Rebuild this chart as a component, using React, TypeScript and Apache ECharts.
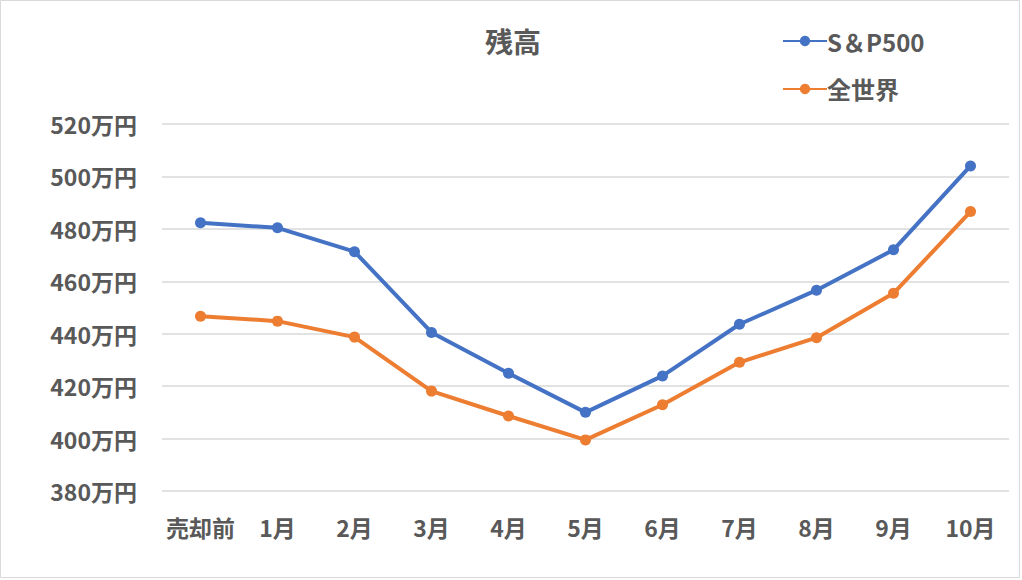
import React, { useEffect, useRef } from "react";
import * as echarts from "echarts";

const categories = ["売却前", "1月", "2月", "3月", "4月", "5月", "6月", "7月", "8月", "9月", "10月"];
const sp500 = [482.3, 480.4, 471.3, 440.5, 424.9, 410.0, 423.9, 443.6, 456.6, 472.0, 504.0];
const world = [446.7, 444.8, 438.7, 418.1, 408.6, 399.5, 412.9, 429.1, 438.5, 455.4, 486.6];
const seriesNames = ["S＆P500", "全世界"];
const colors = ["#4472C4", "#ED7D31"];
const FONT = "'Noto Sans CJK JP', 'Noto Sans', sans-serif";

export default function App() {
  const ref = useRef<HTMLDivElement>(null);
  useEffect(() => {
    document.body.style.margin = "0";
    const chart = echarts.init(ref.current!, undefined, { renderer: "svg" });
    chart.setOption({
      animation: false,
      backgroundColor: "#ffffff",
      textStyle: { fontFamily: FONT },
      title: {
        text: "残高",
        left: 508,
        top: 22,
        textAlign: "center",
        textStyle: { color: "#595959", fontSize: 28, fontWeight: "bold", fontFamily: FONT },
      },
      legend: {
        orient: "vertical",
        left: 777,
        top: 24,
        itemGap: 24,
        itemWidth: 44,
        itemHeight: 13,
        textStyle: { color: "#595959", fontSize: 24, fontWeight: "bold", fontFamily: FONT, padding: [0, 0, 0, -5] },
        data: seriesNames,
      },
      graphic: [
        {
          type: "rect",
          shape: { x: 0.5, y: 0.5, width: 1019, height: 577 },
          style: { fill: "none", stroke: "#D9D9D9", lineWidth: 1 },
          silent: true,
        },
      ],
      grid: { left: 162, right: 13, top: 124, bottom: 89, containLabel: false },
      xAxis: {
        type: "category",
        data: categories,
        boundaryGap: true,
        axisLine: { show: false },
        axisTick: { show: false },
        axisLabel: {
          color: "#595959",
          fontSize: 23,
          fontWeight: "bold",
          fontFamily: FONT,
          margin: 24,
          interval: 0,
          hideOverlap: false,
        },
      },
      yAxis: {
        type: "value",
        min: 380,
        max: 520,
        interval: 20,
        axisLine: { show: false },
        axisTick: { show: false },
        splitLine: { lineStyle: { color: "#D9D9D9", width: 1.5 } },
        axisLabel: {
          color: "#595959",
          fontSize: 23,
          fontWeight: "bold",
          fontFamily: FONT,
          margin: 25,
          formatter: (v: number) => `${v}万円`,
        },
      },
      series: [
        {
          name: seriesNames[0],
          type: "line",
          data: sp500,
          color: colors[0],
          symbol: "circle",
          symbolSize: 11,
          lineStyle: { width: 4, color: colors[0] },
          itemStyle: { color: colors[0] },
        },
        {
          name: seriesNames[1],
          type: "line",
          data: world,
          color: colors[1],
          symbol: "circle",
          symbolSize: 11,
          lineStyle: { width: 4, color: colors[1] },
          itemStyle: { color: colors[1] },
        },
      ],
    });
    return () => chart.dispose();
  }, []);
  return <div ref={ref} style={{ width: 1022, height: 580 }} />;
}
